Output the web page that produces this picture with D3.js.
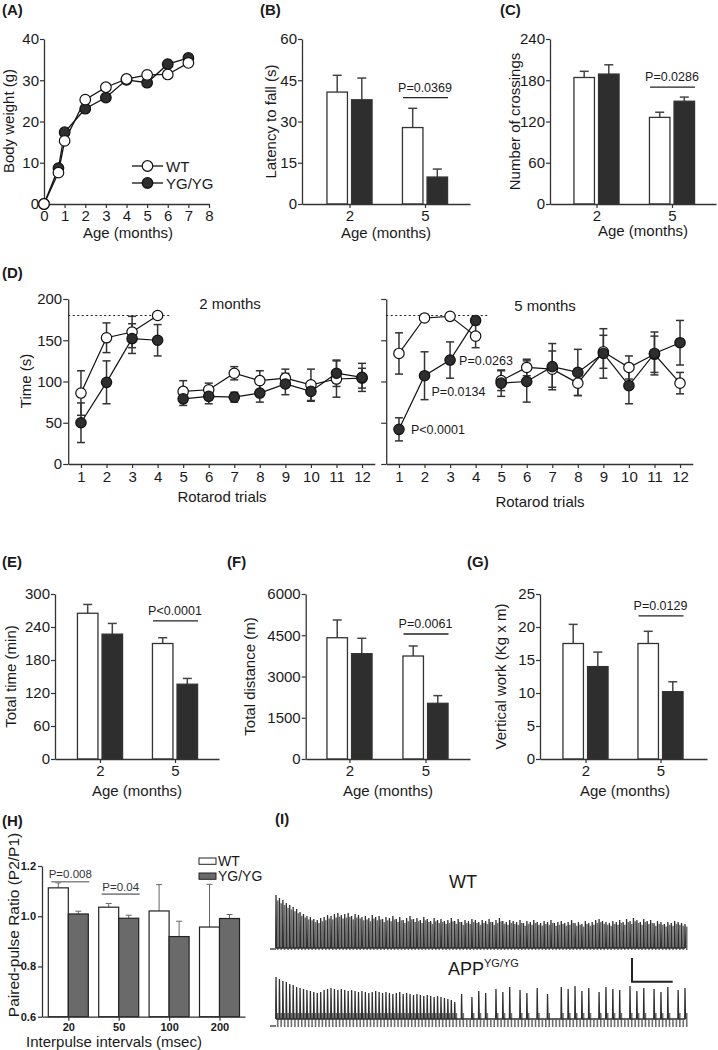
<!DOCTYPE html>
<html><head><meta charset="utf-8">
<script src="https://cdn.jsdelivr.net/npm/d3@7"></script>
<style>body{margin:0;background:#fff}svg{display:block;font-family:Arial,"Liberation Sans",sans-serif}</style>
</head><body><svg id="c" width="718" height="1050"></svg>
<script>
// ---------------- DATA ----------------
// (A) body weight
const ageMonths = [0, 0.7, 1, 2, 3, 4, 5, 6, 7];
const weightWT  = [0, 7.6, 15.3, 25.3, 28.3, 30.3, 31.3, 31.4, 34.2];
const weightYG  = [0, 8.7, 17.4, 23.1, 25.8, 30.1, 29.4, 33.9, 35.4];
// bar panels
const ageGroups = ["2", "5"];
const latencyWT = [40.7, 27.8], latencyWTerr = [6.1, 7.0];
const latencyYG = [37.9, 9.8],  latencyYGerr = [7.9, 2.9];
const crossWT = [184, 126],  crossWTerr = [9, 7.5];
const crossYG = [189, 149.5], crossYGerr = [13.5, 6];
const timeWT = [265, 210], timeWTerr = [16, 10.5];
const timeYG = [227, 136], timeYGerr = [19.5, 10.5];
const distWT = [4410, 3745], distWTerr = [645, 365];
const distYG = [3830, 2025], distYGerr = [560, 280];
const vworkWT = [17.5, 17.5], vworkWTerr = [2.9, 1.85];
const vworkYG = [14.0, 10.2], vworkYGerr = [2.2, 1.5];
// (D) rotarod
const trials = [1,2,3,4,5,6,7,8,9,10,11,12];
const rot2WT    = [86, 153, 160, 180, 88, 90, 110, 101, 104, 96, 103, 104];
const rot2WTerr = [27, 18, 19, 0, 13, 8, 8, 12, 11, 19, 22, 12];
const rot2YG    = [50, 99, 152, 150, 79, 82, 81, 86, 97, 88, 110, 105];
const rot2YGerr = [24, 26, 18, 19, 8, 9, 6, 11, 13, 12, 16, 17];
const rot5WT    = [134, 177, 179, 155, 101, 117, 115, 98, 136, 117, 133, 98];
const rot5WTerr = [25, 0, 0, 14, 12, 10, 22, 15, 20, 14, 22, 13];
const rot5YG    = [42, 107, 126, 174, 98, 100, 118, 111, 134, 95, 134, 147];
const rot5YGerr = [14, 29, 22, 0, 16, 25, 28, 28, 30, 22, 26, 27];
// (H) paired-pulse ratio
const intervals = ["20", "50", "100", "200"];
const ppWT = [1.113, 1.036, 1.021, 0.957], ppWTerr = [0.02, 0.015, 0.105, 0.17];
const ppYG = [1.009, 0.992, 0.919, 0.991], ppYGerr = [0.011, 0.012, 0.061, 0.016];
// (I) traces: peak amplitude of successive responses
const wtTrace = [55,52,50,47,45,43,41,38,36,34,
 33,31,30,32,33,35,34,36,37,35,36,37,34,36,35,33,34,32,35,33,
 34,31,33,32,34,31,33,30,32,34,31,32,30,33,31,29,32,30,31,29,
 30,32,29,31,28,30,29,31,30,28,30,29,31,28,30,32,29,28,30,29,
 28,30,27,29,28,30,28,27,29,28,30,27,28,29,27,28,30,27,28,26,
 29,27,28,30,31,29,28,27,29,28,30,28,31,29,32,30,28,31,29,30,
 27,29,28,26,28,27,29,28,27,26];
const appTrace = [50,48,46,45,43,42,40,39,38,37,
 36,35,34,35,37,38,39,38,37,38,37,36,37,36,35,36,35,34,35,36,
 35,34,35,34,33,34,35,33,34,33,32,33,32,31,32,31,30,31,30,29,
 28,27,25,
 8,33,8,8,30,8,36,8,34,8,8,38,8,35,8,40,8,8,37,8,
 34,8,8,39,8,8,33,8,8,8,40,8,38,8,41,8,36,8,39,8,
 8,35,8,40,8,38,8,37,8,8,41,8,36,8,39,8,8,38,8,35,
 8,40,8,8,37,8,39];

// ---------------- DRAW ----------------
const svg = d3.select("#c");
svg.append("rect").attr("width", 718).attr("height", 1050).attr("fill", "#fff");
const INK = "#1a1a1a", AX = "#333", DARK = "#2e2e2e";
const FONT = "Arial, 'Liberation Sans', sans-serif";

function txt(t, x, y, fs, opt = {}) {
  const e = svg.append("text").attr("x", x).attr("y", y).attr("font-size", fs)
    .attr("fill", opt.fill || INK).attr("font-family", FONT)
    .attr("text-anchor", opt.anchor || "start").text(t);
  if (opt.bold) e.attr("font-weight", "bold");
  return e;
}
function yLabel(t, x, y, fs) {
  svg.append("text").attr("transform", `translate(${x},${y}) rotate(-90)`)
    .attr("text-anchor", "middle").attr("dominant-baseline", "central")
    .attr("font-size", fs).attr("font-family", FONT).attr("fill", INK).text(t);
}
function styleAxis(g, fs, bold) {
  g.attr("font-family", FONT);
  g.selectAll("path.domain").attr("stroke", AX).attr("stroke-width", 1.3);
  g.selectAll(".tick line").attr("stroke", AX).attr("stroke-width", 1.2);
  g.selectAll(".tick text").attr("font-size", fs).attr("fill", INK)
    .attr("font-weight", bold ? "bold" : "normal");
}
function errBar(g, x, y1, y2, cap, color, w) {
  g.append("line").attr("x1", x).attr("x2", x).attr("y1", y1).attr("y2", y2)
    .attr("stroke", color).attr("stroke-width", w);
  g.append("line").attr("x1", x - cap / 2).attr("x2", x + cap / 2).attr("y1", y2).attr("y2", y2)
    .attr("stroke", color).attr("stroke-width", w);
}

// panel labels
[["(A)",2,15],["(B)",260,15],["(C)",500,15],["(D)",2,278],["(E)",2,567],["(F)",227,567],
 ["(G)",467,567],["(H)",2,826],["(I)",275,824]].forEach(d => txt(d[0], d[1], d[2], 15, {bold: true}));

// ---------- (A) ----------
(function () {
  const x = d3.scaleLinear().domain([0, 8]).range([44, 209]);
  const y = d3.scaleLinear().domain([0, 40]).range([204, 39]);
  styleAxis(svg.append("g").attr("transform", "translate(0,204)")
    .call(d3.axisBottom(x).tickValues([0,1,2,3,4,5,6,7,8]).tickSize(4).tickPadding(2).tickSizeOuter(0)), 15);
  styleAxis(svg.append("g").attr("transform", "translate(44,0)")
    .call(d3.axisLeft(y).tickValues([0,10,20,30,40]).tickSize(4).tickPadding(1).tickSizeOuter(0)), 15);
  const line = d3.line().x((d, i) => x(ageMonths[i])).y(d => y(d));
  [weightYG, weightWT].forEach(s => {
    svg.append("path").attr("d", line(s)).attr("fill", "none").attr("stroke", "#111").attr("stroke-width", 1.3);
  });
  [[weightYG, DARK], [weightWT, "#fff"]].forEach(([s, f]) => {
    svg.append("g").selectAll("circle").data(s).join("circle")
      .attr("cx", (d, i) => x(ageMonths[i])).attr("cy", d => y(d)).attr("r", 5.3)
      .attr("fill", f).attr("stroke", "#111").attr("stroke-width", 1.2);
  });
  [["WT", "#fff", 166], ["YG/YG", DARK, 183]].forEach(([t, f, yy]) => {
    svg.append("line").attr("x1", 132).attr("x2", 163).attr("y1", yy).attr("y2", yy).attr("stroke", "#111").attr("stroke-width", 1.3);
    svg.append("circle").attr("cx", 147.5).attr("cy", yy).attr("r", 5.3).attr("fill", f).attr("stroke", "#111").attr("stroke-width", 1.2);
    txt(t, 166, yy + 5.5, 15);
  });
  yLabel("Body weight (g)", 8, 121, 15);
  txt("Age (months)", 128, 238, 15, {anchor: "middle"});
})();

// ---------- bar panels ----------
function barPanel(o) {
  const s = d3.scaleLinear().domain([0, 1]).range([o.c1, o.c2]);
  const x = d3.scaleLinear().domain([s.invert(o.x0), s.invert(o.x1)]).range([o.x0, o.x1]);
  const y = d3.scaleLinear().domain([0, o.ymax]).range([o.yb, o.yt]);
  const g = svg.append("g");
  const bw = 20.5, off = 12.3;
  [[o.wt, o.wtErr, "#fff", -off], [o.yg, o.ygErr, DARK, off]].forEach(([v, e, f, dx]) => {
    v.forEach((d, i) => {
      const cx = x(i) + dx;
      errBar(g, cx, y(d), y(d + e[i]), 9, "#444", 1.5);
      g.append("rect").attr("x", cx - bw / 2).attr("y", y(d)).attr("width", bw).attr("height", y(0) - y(d))
        .attr("fill", f).attr("stroke", "#333").attr("stroke-width", 1.3);
    });
  });
  styleAxis(svg.append("g").attr("transform", `translate(0,${o.yb})`)
    .call(d3.axisBottom(x).tickValues([0, 1]).tickFormat(i => ageGroups[i]).tickSize(4).tickPadding(2).tickSizeOuter(0)), 15);
  styleAxis(svg.append("g").attr("transform", `translate(${o.x0},0)`)
    .call(d3.axisLeft(y).tickValues(o.ticks).tickFormat(d3.format("d")).tickSize(4).tickPadding(1).tickSizeOuter(0)), 15);
  const py = y(o.pv);
  g.append("line").attr("x1", x(1) - 22).attr("x2", x(1) + 23).attr("y1", py).attr("y2", py)
    .attr("stroke", "#222").attr("stroke-width", 1.3);
  txt(o.ptext, x(1), py - 6, 12.5, {anchor: "middle"});
  yLabel(o.ylabel, o.ylx, (o.yb + o.yt) / 2, 15);
  txt("Age (months)", o.xlx, o.xly, 15, {anchor: "middle"});
}
barPanel({x0: 302, x1: 470, c1: 349.5, c2: 425, yb: 204, yt: 39, ymax: 60, ticks: [0,15,30,45,60],
  wt: latencyWT, wtErr: latencyWTerr, yg: latencyYG, ygErr: latencyYGerr, pv: 38.7, ptext: "P=0.0369",
  ylabel: "Latency to fall (s)", ylx: 270, xlx: 386, xly: 238});
barPanel({x0: 550, x1: 716, c1: 596.5, c2: 672, yb: 204, yt: 39, ymax: 240, ticks: [0,60,120,180,240],
  wt: crossWT, wtErr: crossWTerr, yg: crossYG, ygErr: crossYGerr, pv: 170, ptext: "P=0.0286",
  ylabel: "Number of crossings", ylx: 514, xlx: 643, xly: 236});
barPanel({x0: 55, x1: 219, c1: 100, c2: 175, yb: 759, yt: 594, ymax: 300, ticks: [0,60,120,180,240,300],
  wt: timeWT, wtErr: timeWTerr, yg: timeYG, ygErr: timeYGerr, pv: 251, ptext: "P<0.0001",
  ylabel: "Total time (min)", ylx: 10, xlx: 137, xly: 796});
barPanel({x0: 305.7, x1: 470, c1: 349.5, c2: 425.5, yb: 759, yt: 594, ymax: 6000, ticks: [0,1500,3000,4500,6000],
  wt: distWT, wtErr: distWTerr, yg: distYG, ygErr: distYGerr, pv: 4545, ptext: "P=0.0061",
  ylabel: "Total distance (m)", ylx: 249, xlx: 388, xly: 796});
barPanel({x0: 540, x1: 707, c1: 585.5, c2: 660.5, yb: 759, yt: 594, ymax: 25, ticks: [0,5,10,15,20,25],
  wt: vworkWT, wtErr: vworkWTerr, yg: vworkYG, ygErr: vworkYGerr, pv: 21.7, ptext: "P=0.0129",
  ylabel: "Vertical work (Kg x m)", ylx: 500, xlx: 625, xly: 796});

// ---------- (D) rotarod ----------
function rotPanel(o) {
  const x = d3.scaleLinear().domain([0.5, 12.5]).range(o.xr);
  const y = d3.scaleLinear().domain([0, 200]).range([464, 299]);
  styleAxis(svg.append("g").attr("transform", "translate(0,464)")
    .call(d3.axisBottom(x).tickValues(trials).tickSize(4).tickPadding(3).tickSizeOuter(0)), 15);
  const ya = svg.append("g").attr("transform", `translate(${o.xr[0]},0)`)
    .call(d3.axisLeft(y).tickValues([0,50,100,150,200]).tickSize(5).tickPadding(1).tickSizeOuter(0)
      .tickFormat(o.labels ? d3.format("d") : () => ""));
  styleAxis(ya, 15);
  svg.append("line").attr("x1", x(0.5)).attr("x2", x(4.5)).attr("y1", y(180)).attr("y2", y(180))
    .attr("stroke", "#222").attr("stroke-width", 1.2).attr("stroke-dasharray", "2,2.5");
  const g = svg.append("g");
  const segs = [[0, 4], [4, 12]];
  const series = [[o.wt, o.wtErr, "#fff"], [o.yg, o.ygErr, DARK]];
  series.forEach(([v, e]) => v.forEach((d, i) => {
    if (e[i] > 0) {
      errBar(g, x(trials[i]), y(d), y(d + e[i]), 8, "#333", 1.5);
      errBar(g, x(trials[i]), y(d), y(d - e[i]), 8, "#333", 1.5);
    }
  }));
  const line = d3.line().x(d => x(d[0])).y(d => y(d[1]));
  series.forEach(([v]) => segs.forEach(([a, b]) => {
    g.append("path").attr("d", line(trials.slice(a, b).map((t, k) => [t, v[a + k]])))
      .attr("fill", "none").attr("stroke", "#111").attr("stroke-width", 1.2);
  }));
  series.forEach(([v, e, f]) => {
    g.append("g").selectAll("circle").data(v).join("circle")
      .attr("cx", (d, i) => x(trials[i])).attr("cy", d => y(d)).attr("r", 5.2)
      .attr("fill", f).attr("stroke", "#111").attr("stroke-width", 1.2);
  });
  txt(o.title, o.tx, o.ty, 15, {anchor: "middle"});
  txt("Rotarod trials", o.rx, o.ry, 15, {anchor: "middle"});
  return {x, y};
}
rotPanel({xr: [68.2, 374.8], labels: true, wt: rot2WT, wtErr: rot2WTerr, yg: rot2YG, ygErr: rot2YGerr,
  title: "2 months", tx: 230, ty: 309, rx: 222, ry: 502});
const r5 = rotPanel({xr: [386.2, 692.8], labels: false, wt: rot5WT, wtErr: rot5WTerr, yg: rot5YG, ygErr: rot5YGerr,
  title: "5 months", tx: 545, ty: 311, rx: 540, ry: 507});
yLabel("Time (s)", 25, 381, 15);
txt("P<0.0001", r5.x(1) + 12, r5.y(rot5YG[0]) + 4.5, 12.5);
txt("P=0.0134", r5.x(2) + 7, r5.y(rot5YG[1]) + 20, 12.5);
txt("P=0.0263", r5.x(3) + 9, r5.y(rot5YG[2]) + 5, 12.5);

// ---------- (H) paired pulse ----------
(function () {
  const s = d3.scaleLinear().domain([0, 3]).range([68.3, 219.5]);
  const x = d3.scaleLinear().domain([s.invert(42), s.invert(245)]).range([42, 245]);
  const y = d3.scaleLinear().domain([0.6, 1.2]).range([1016.7, 866]);
  const g = svg.append("g");
  [[ppWT, ppWTerr, "#fff", -20], [ppYG, ppYGerr, "#6a6a6a", 0]].forEach(([v, e, f, dx]) => {
    v.forEach((d, i) => {
      errBar(g, x(i) + dx + 10, y(d), y(d + e[i]), 6, "#666", 1);
      g.append("rect").attr("x", x(i) + dx).attr("y", y(d)).attr("width", 20).attr("height", y(0.6) - y(d))
        .attr("fill", f).attr("stroke", "#222").attr("stroke-width", 1.2);
    });
  });
  styleAxis(svg.append("g").attr("transform", "translate(0,1016.7)")
    .call(d3.axisBottom(x).tickValues([0,1,2,3]).tickFormat(i => intervals[i]).tickSize(4).tickPadding(3).tickSizeOuter(0)), 11, true);
  styleAxis(svg.append("g").attr("transform", "translate(42,0)")
    .call(d3.axisLeft(y).tickValues([0.6,0.8,1.0,1.2]).tickFormat(d3.format(".1f")).tickSize(4).tickPadding(2).tickSizeOuter(0)), 11, true);
  [[0, 1.137, "P=0.008"], [1, 1.088, "P=0.04"]].forEach(([i, v, t]) => {
    g.append("line").attr("x1", x(i) - 17).attr("x2", x(i) + 21).attr("y1", y(v)).attr("y2", y(v))
      .attr("stroke", "#888").attr("stroke-width", 1.6);
    txt(t, x(i) + 2, y(v) - 3.5, 11.5, {anchor: "middle", fill: "#333"});
  });
  [["WT", "#fff", 858], ["YG/YG", "#6a6a6a", 873]].forEach(([t, f, yy]) => {
    svg.append("rect").attr("x", 199).attr("y", yy).attr("width", 17).attr("height", 6.3)
      .attr("fill", f).attr("stroke", "#222").attr("stroke-width", 1);
    txt(t, 218, yy + 7.5, 14);
  });
  yLabel("Paired-pulse Ratio (P2/P1)", 13, 925, 15.5);
  txt("Interpulse intervals (msec)", 114, 1047, 15, {anchor: "middle"});
})();

// ---------- (I) traces ----------
(function () {
  const n = wtTrace.length;
  const x = d3.scaleLinear().domain([0, n - 1]).range([276, 685]);
  const step = x(1) - x(0);
  const line = d3.line();
  function trace(data, y, trough, lightCap) {
    const gg = svg.append("g");
    // interleaved second sweep (lighter)
    data.forEach((a, i) => {
      gg.append("line").attr("x1", x(i) + step * 0.5).attr("x2", x(i) + step * 0.5)
        .attr("y1", y(0)).attr("y2", y(Math.min(a * 0.9, lightCap)))
        .attr("stroke", "#6f6f6f").attr("stroke-width", 1.6);
    });
    // main sweep: fast rise and fall, then baseline
    const pts = [];
    data.forEach((a, i) => {
      const b = Math.min(trough, a);
      pts.push([x(i) - 0.3, y(b)], [x(i), y(a)], [x(i) + 0.5, y(b)]);
    });
    gg.append("path").attr("d", line(pts)).attr("fill", "none").attr("stroke", "#2f2f2f").attr("stroke-width", 1.3);
  }
  const yW = d3.scaleLinear().domain([0, 60]).range([950, 890]);
  const yA = d3.scaleLinear().domain([0, 60]).range([1027, 967]);
  trace(wtTrace, yW, 2, 60);
  trace(appTrace, yA, 8, 14);
  svg.append("line").attr("x1", 270).attr("x2", 276).attr("y1", yW(1)).attr("y2", yW(1)).attr("stroke", "#222").attr("stroke-width", 1.2);
  svg.append("line").attr("x1", 270).attr("x2", 276).attr("y1", yA(1)).attr("y2", yA(1)).attr("stroke", "#222").attr("stroke-width", 1.2);
  txt("WT", 463, 888, 18, {anchor: "middle"});
  const t = txt("APP", 448, 975, 18);
  t.append("tspan").attr("font-size", 11).attr("dy", -8).text("YG/YG");
  svg.append("path").attr("d", "M632,958V981.7H672.7").attr("fill", "none").attr("stroke", "#222").attr("stroke-width", 2);
})();
</script></body></html>
